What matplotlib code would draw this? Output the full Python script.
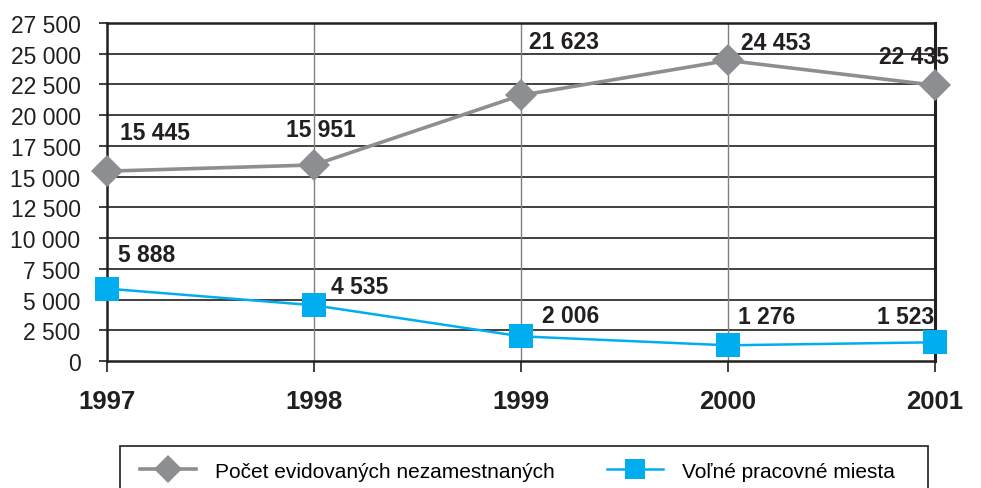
import matplotlib
matplotlib.use("Agg")
import matplotlib.pyplot as plt
from matplotlib.ticker import FuncFormatter
from matplotlib.patches import Rectangle

years = [1997, 1998, 1999, 2000, 2001]
unemployed = [15445, 15951, 21623, 24453, 22435]
vacancies = [5888, 4535, 2006, 1276, 1523]
series_names = ["Počet evidovaných nezamestnaných", "Voľné pracovné miesta"]
y_ticks = list(range(0, 27501, 2500))

# label offsets in pixels (dx to left edge, dy up to text centre)
unemp_offsets = [(13, 39), (-28, 35), (8, 54), (13, 18), (-56, 29)]
vac_offsets = [(11, 34), (17, 19), (21, 21), (10, 29), (-58, 26)]

plt.rcParams['font.family'] = ['Liberation Sans', 'DejaVu Sans']

W, H = 981, 489
fig = plt.figure(figsize=(W / 100, H / 100), dpi=100)
left, right, top, bottom = 107, 935, 24, 362
ax = fig.add_axes([left / W, 1 - bottom / H, (right - left) / W, (bottom - top) / H])

gray = "#8D8E92"
blue = "#00AEEF"

ax.plot(years, unemployed, color=gray, lw=2.6, marker="D", markersize=16,
        markeredgewidth=0, label=series_names[0], zorder=4, clip_on=False)
ax.plot(years, vacancies, color=blue, lw=1.8, marker="s", markersize=17,
        markeredgewidth=0, label=series_names[1], zorder=4, clip_on=False)

def fmt(v):
    return f"{v:,}".replace(",", " ")

for x, v, (dx, dy) in zip(years, unemployed, unemp_offsets):
    ax.annotate(fmt(v), (x, v), xytext=(dx, dy), textcoords="offset pixels",
                ha="left", va="center", fontsize=16.5, fontweight="bold",
                color="#231F20", zorder=6, annotation_clip=False)
for x, v, (dx, dy) in zip(years, vacancies, vac_offsets):
    ax.annotate(fmt(v), (x, v), xytext=(dx, dy), textcoords="offset pixels",
                ha="left", va="center", fontsize=16.5, fontweight="bold",
                color="#231F20", zorder=6, annotation_clip=False)

ax.set_xlim(1997, 2001)
ax.set_ylim(0, 27500)
ax.set_yticks(y_ticks)
ax.yaxis.set_major_formatter(FuncFormatter(lambda v, p: fmt(int(v))))
ax.set_xticks(years)
ax.set_xticklabels([str(y) for y in years], fontsize=18.5, fontweight="bold", color="#231F20")
for lab in ax.get_yticklabels():
    lab.set_fontsize(16.5)
    lab.set_color("#231F20")

ax.tick_params(axis="y", length=6, width=1.2, color="#231F20", pad=13)
ax.tick_params(axis="x", length=8, width=1.2, color="#231F20", pad=12)

for yv in y_ticks[1:]:
    ax.axhline(yv, color="#231F20", lw=1.2, zorder=1)
for xv in years[1:-1]:
    ax.axvline(xv, color="#808080", lw=1.0, zorder=1)

for s in ["left", "bottom", "top", "right"]:
    ax.spines[s].set_color("#231F20")
    ax.spines[s].set_linewidth(1.8)
ax.spines["right"].set_linewidth(2.2)

# legend frame
fig.patches.append(Rectangle((120 / W, -10 / H), 808 / W, (H - 447 + 10) / H,
                             transform=fig.transFigure, fill=False,
                             edgecolor="#231F20", lw=1.2))
leg = fig.legend(loc="center left", bbox_to_anchor=(140 / W, 1 - 472 / H),
                 ncol=2, fontsize=15, frameon=False, borderpad=0, borderaxespad=0,
                 handlelength=2.7, columnspacing=2.5, handletextpad=0.9)
for h in leg.legend_handles:
    h.set_markersize(14)

fig.savefig("out.png", dpi=100)
